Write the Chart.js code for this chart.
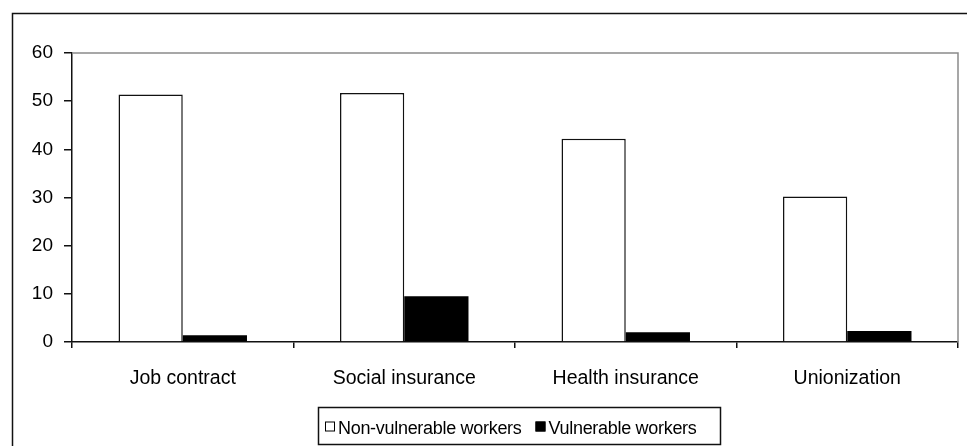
<!DOCTYPE html>
<html>
<head>
<meta charset="utf-8">
<script src="https://cdn.jsdelivr.net/npm/chart.js@4.4.1/dist/chart.umd.min.js"></script>
<style>
  html, body { margin: 0; padding: 0; background: #fff; }
  #wrap { width: 967px; height: 446px; }
</style>
</head>
<body>
<div id="wrap"><canvas id="c" width="967" height="446"></canvas></div>
<script>
// Share of workers covered, by type of protection (%)
const categories = ['Job contract', 'Social insurance', 'Health insurance', 'Unionization'];
const nonVulnerable = [51.4, 51.7, 42.2, 30.2];
const vulnerable = [1.4, 9.5, 2.0, 2.3];
const seriesNames = ['Non-vulnerable workers', 'Vulnerable workers'];
const yTicks = [0, 10, 20, 30, 40, 50, 60];

const FONT = 'Liberation Sans, Arial, sans-serif';

// Frame around the whole figure, top/right plot edges, and the boxed legend
const decor = {
  id: 'decor',
  afterDraw(chart) {
    const ctx = chart.ctx;
    const a = chart.chartArea;
    ctx.save();
    // outer frame
    ctx.strokeStyle = '#111';
    ctx.lineWidth = 1.5;
    ctx.beginPath();
    ctx.moveTo(12.5, 460);
    ctx.lineTo(12.5, 13.5);
    ctx.lineTo(975, 13.5);
    ctx.stroke();
    // gray plot-area edges on top and right
    ctx.strokeStyle = '#8a8a8a';
    ctx.lineWidth = 1.5;
    ctx.beginPath();
    ctx.moveTo(a.left, a.top);
    ctx.lineTo(a.right, a.top);
    ctx.lineTo(a.right, a.bottom);
    ctx.stroke();

    // legend
    const boxL = 318.5, boxT = 407.5, boxR = 720.5, boxB = 444.5;
    ctx.fillStyle = '#fff';
    ctx.fillRect(boxL, boxT, boxR - boxL, boxB - boxT);
    ctx.strokeStyle = '#111';
    ctx.lineWidth = 1.5;
    ctx.strokeRect(boxL, boxT, boxR - boxL, boxB - boxT);
    ctx.font = '18px ' + FONT;
    ctx.textBaseline = 'alphabetic';
    ctx.letterSpacing = '-0.3px';
    const midY = 426.5;
    const items = chart.data.datasets.map(d => ({ label: d.label, fill: d.backgroundColor }));
    let x = 325;
    items.forEach((it, i) => {
      ctx.fillStyle = it.fill;
      ctx.fillRect(x, midY - 5, 10, 10);
      ctx.strokeStyle = '#000';
      ctx.lineWidth = 1;
      ctx.strokeRect(x + 0.5, midY - 4.5, 9, 9);
      ctx.fillStyle = '#000';
      ctx.fillText(it.label, x + 13, midY + 7);
      x += 13 + ctx.measureText(it.label).width + 14;
    });
    ctx.restore();
  }
};

new Chart(document.getElementById('c'), {
  type: 'bar',
  data: {
    labels: categories,
    datasets: [
      {
        label: seriesNames[0],
        data: nonVulnerable,
        backgroundColor: '#ffffff',
        borderColor: '#111',
        borderWidth: 1.5,
        borderSkipped: 'bottom'
      },
      {
        label: seriesNames[1],
        data: vulnerable,
        backgroundColor: '#000000',
        borderColor: '#000',
        borderWidth: 0
      }
    ]
  },
  options: {
    responsive: false,
    animation: false,
    devicePixelRatio: 1,
    layout: { padding: { left: 0, top: 53, right: 9, bottom: 0 } },
    datasets: { bar: { categoryPercentage: 0.58, barPercentage: 1.0 } },
    plugins: { legend: { display: false }, tooltip: { enabled: false } },
    scales: {
      x: {
        offset: true,
        grid: { offset: true, drawOnChartArea: false, drawTicks: true, tickLength: 6, color: '#111', lineWidth: 1.5 },
        border: { display: true, color: '#111', width: 1.5 },
        ticks: { color: '#000', font: { family: FONT, size: 19.5 }, padding: 19, maxRotation: 0 },
        afterFit(scale) { scale.height = 104; }
      },
      y: {
        min: 0,
        max: 60,
        afterBuildTicks(scale) { scale.ticks = yTicks.map(v => ({ value: v })); },
        grid: { drawOnChartArea: false, drawTicks: true, tickLength: 8, color: '#111', lineWidth: 1.5 },
        border: { display: true, color: '#111', width: 1.5 },
        ticks: { color: '#000', font: { family: FONT, size: 19 }, padding: 11 },
        afterFit(scale) { scale.width = 72; }
      }
    }
  },
  plugins: [decor]
});
</script>
</body>
</html>
